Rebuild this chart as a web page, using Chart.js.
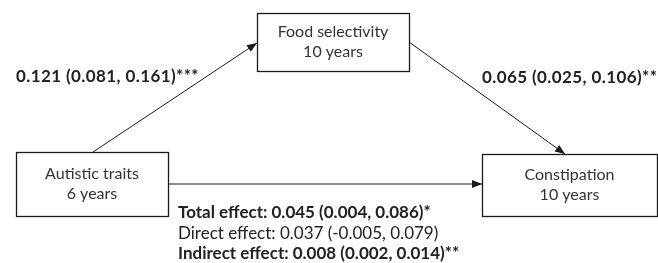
<!DOCTYPE html>
<html>
<head>
<meta charset="utf-8">
<script src="https://cdn.jsdelivr.net/npm/chart.js@4.4.0/dist/chart.umd.min.js"></script>
<style>
  html, body { margin: 0; padding: 0; background: #fff; }
  #wrap { width: 658px; height: 263px; }
</style>
</head>
<body>
<div id="wrap"><canvas id="chart1" width="658" height="263"></canvas></div>
<script>
// nodes of the mediation model (centre in diagram units)
var nodeLines = [['Autistic traits', '6 years'], ['Food selectivity', '10 years'], ['Constipation', '10 years']];
var nodeX = [92, 333, 569.5];
var nodeY = [184, 42, 185];

// paths: start and end points
var pathFromX = [93, 409, 168];
var pathFromY = [152, 42, 184];
var pathToX = [257, 565, 482];
var pathToY = [43, 154, 184];

// coefficients on the a and b paths
var coefLabels = ['0.121 (0.081, 0.161)***', '0.065 (0.025, 0.106)**'];
var coefX = [16, 482];
var coefY = [77, 78];

// effect summary under the direct path
var effectLabels = ['Total effect:', 'Direct effect:', 'Indirect effect:'];
var effectValues = ['0.045 (0.004, 0.086)*', '0.037 (-0.005, 0.079)', '0.008 (0.002, 0.014)**'];
var effectBold = [true, false, true];
var effectX = 178;
var effectY = [213, 234, 254];

var boxW = [152, 152, 175];
var boxH = [64, 58, 62];
var fontName = 'Lato, sans-serif';
var ink = '#1a1a1a';

var datasets = [];
for (let i = 0; i < pathFromX.length; i++) {
    datasets.push({
        type: 'line',
        data: [{ x: pathFromX[i], y: pathFromY[i] }, { x: pathToX[i], y: pathToY[i] }],
        borderColor: ink,
        borderWidth: 1,
        pointRadius: 0,
        fill: false
    });
}
// node centres (invisible, boxes drawn around them)
datasets.push({
    type: 'scatter',
    data: nodeX.map((x, i) => ({ x: x, y: nodeY[i] })),
    pointRadius: 0
});

var diagram = {
    id: 'diagram',
    afterDatasetsDraw(chart) {
        var ctx = chart.ctx, sx = chart.scales.x, sy = chart.scales.y;
        ctx.save();
        // arrowheads
        for (let i = 0; i < pathFromX.length; i++) {
            let x0 = sx.getPixelForValue(pathFromX[i]), y0 = sy.getPixelForValue(pathFromY[i]);
            let x1 = sx.getPixelForValue(pathToX[i]), y1 = sy.getPixelForValue(pathToY[i]);
            let a = Math.atan2(y1 - y0, x1 - x0);
            ctx.fillStyle = ink;
            ctx.beginPath();
            ctx.moveTo(x1, y1);
            ctx.lineTo(x1 - 10 * Math.cos(a) + 4 * Math.sin(a), y1 - 10 * Math.sin(a) - 4 * Math.cos(a));
            ctx.lineTo(x1 - 10 * Math.cos(a) - 4 * Math.sin(a), y1 - 10 * Math.sin(a) + 4 * Math.cos(a));
            ctx.closePath();
            ctx.fill();
        }
        // boxes
        ctx.strokeStyle = ink;
        ctx.lineWidth = 1.3;
        ctx.fillStyle = '#333';
        ctx.textAlign = 'center';
        ctx.textBaseline = 'middle';
        ctx.font = '16px ' + fontName;
        for (let i = 0; i < nodeLines.length; i++) {
            let cx = sx.getPixelForValue(nodeX[i]), cy = sy.getPixelForValue(nodeY[i]);
            ctx.strokeRect(Math.round(cx - boxW[i] / 2) + 0.5, Math.round(cy - boxH[i] / 2) + 0.5, boxW[i], boxH[i]);
            ctx.fillText(nodeLines[i][0], cx, cy - 10);
            ctx.fillText(nodeLines[i][1], cx, cy + 10);
        }
        // coefficients
        ctx.textAlign = 'left';
        ctx.fillStyle = '#222';
        ctx.font = 'bold 17px ' + fontName;
        ctx.letterSpacing = '0.4px';
        for (let i = 0; i < coefLabels.length; i++) {
            ctx.fillText(coefLabels[i], sx.getPixelForValue(coefX[i]), sy.getPixelForValue(coefY[i]));
        }
        // effects
        ctx.letterSpacing = '0px';
        for (let i = 0; i < effectLabels.length; i++) {
            ctx.font = (effectBold[i] ? 'bold ' : '') + '17px ' + fontName;
            let s = effectLabels[i] + ' ' + effectValues[i];
            ctx.fillText(s, sx.getPixelForValue(effectX), sy.getPixelForValue(effectY[i]));
        }
        ctx.restore();
    }
};

var chart1Ctx = document.getElementById('chart1').getContext('2d');
var chart1 = new Chart(chart1Ctx, {
    type: 'scatter',
    data: { datasets: datasets },
    options: {
        responsive: false,
        animation: false,
        layout: { padding: 0 },
        plugins: { legend: { display: false }, tooltip: { enabled: false } },
        scales: {
            x: { type: 'linear', min: 0, max: 658, display: false },
            y: { type: 'linear', min: 0, max: 263, reverse: true, display: false }
        }
    },
    plugins: [diagram]
});
</script>
</body>
</html>
